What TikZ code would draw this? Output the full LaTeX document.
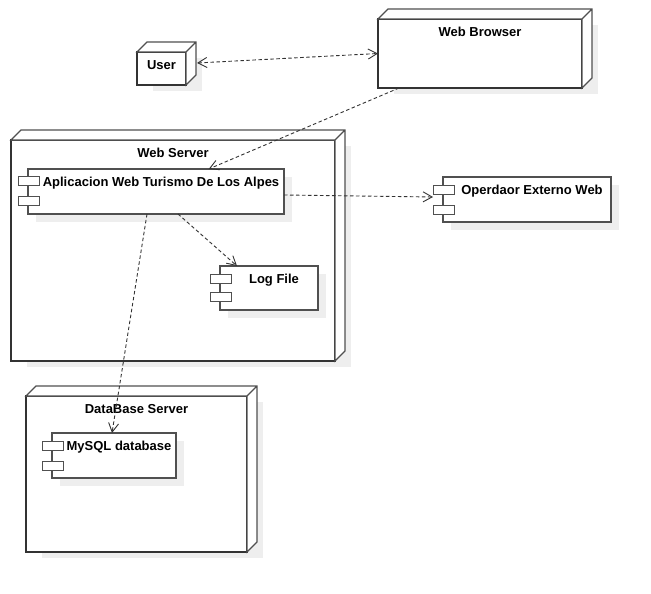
\documentclass[tikz,border=0pt]{standalone}
\usepackage{fontspec}
\setmainfont{Liberation Sans}
\usetikzlibrary{arrows.meta,shadows}
\definecolor{lshadow}{RGB}{238, 238, 238}
\definecolor{dline}{RGB}{51, 51, 51}
\definecolor{mline}{RGB}{80, 80, 80}

\begin{document}
\begin{tikzpicture}[x = 1pt, y = -1pt, font = \fontsize{13}{15}\selectfont\bfseries,
	>={Straight Barb[length=9pt,width=10pt]},
	device/.style = {draw = dline, line width = 2pt, fill = white, anchor = north west, inner sep = 0pt, outer sep = 0pt,
		drop shadow = {shadow xshift = 16pt, shadow yshift = -6pt, fill = lshadow, opacity = 1}},
	face/.style = {draw = mline, line width = 1.1pt, fill = white},
	comp/.style = {draw = mline, line width = 1.3pt, fill = white, anchor = north west, inner sep = 0pt, outer sep = 0pt, minimum height = 45pt,
		drop shadow = {shadow xshift = 8pt, shadow yshift = -8pt, fill = lshadow, opacity = 1}},
	icon/.style = {draw = mline, line width = 1.3pt, fill = white, anchor = north west, inner sep = 0pt, minimum width = 21pt, minimum height = 9pt},
	title/.style = {anchor = north, inner sep = 8pt},
	dep/.style = {draw = dline, line width = 0.9pt, dash pattern = on 3.5pt off 2.5pt}]
			\useasboundingbox (0,0) rectangle (651,594);
			\node (user) at (137,52) [device, minimum width = 49pt, minimum height = 33pt, label = {[title]north:User}] {};
			\node (browser) at (378,19) [device, minimum width = 204pt, minimum height = 69pt, label = {[title]north:Web Browser}] {};
			\node (webserver) at (11,140) [device, minimum width = 324pt, minimum height = 221pt, label = {[title]north:Web Server}] {};
			\node (dbserver) at (26,396) [device, minimum width = 221pt, minimum height = 156pt, label = {[title]north:DataBase Server}] {};
			\node (app) at (28,169) [comp, minimum width = 256pt, label = {[title, xshift = 5pt]north:Aplicacion Web Turismo De Los Alpes}] {};
			\node (op) at (443,177) [comp, minimum width = 168pt, label = {[title, xshift = 5pt]north:Operdaor Externo Web}] {};
			\node (logfile) at (220,266) [comp, minimum width = 98pt, minimum height = 44pt, label = {[title, xshift = 5pt]north:Log File}] {};
			\node (mysql) at (52,433) [comp, minimum width = 124pt, label = {[title, xshift = 5pt]north:MySQL database}] {};
			\node (app-a) at ([shift={(-10pt,-7pt)}]app.north west) [icon] {};
			\node (app-b) at ([shift={(-10pt,-27pt)}]app.north west) [icon] {};
			\node (op-a) at ([shift={(-10pt,-8pt)}]op.north west) [icon] {};
			\node (op-b) at ([shift={(-10pt,-28pt)}]op.north west) [icon] {};
			\node (logfile-a) at ([shift={(-10pt,-8pt)}]logfile.north west) [icon] {};
			\node (logfile-b) at ([shift={(-10pt,-26pt)}]logfile.north west) [icon] {};
			\node (mysql-a) at ([shift={(-10pt,-8pt)}]mysql.north west) [icon] {};
			\node (mysql-b) at ([shift={(-10pt,-28pt)}]mysql.north west) [icon] {};
			\draw [face] (user.north west) -- ++(10pt,10pt) -| ([shift={(10pt,10pt)}]user.south east) -- (user.south east) -- (user.north east) -- cycle (user.north east) -- ++(10pt,10pt);
			\draw [face] (browser.north west) -- ++(10pt,10pt) -| ([shift={(10pt,10pt)}]browser.south east) -- (browser.south east) -- (browser.north east) -- cycle (browser.north east) -- ++(10pt,10pt);
			\draw [face] (webserver.north west) -- ++(10pt,10pt) -| ([shift={(10pt,10pt)}]webserver.south east) -- (webserver.south east) -- (webserver.north east) -- cycle (webserver.north east) -- ++(10pt,10pt);
			\draw [face] (dbserver.north west) -- ++(10pt,10pt) -| ([shift={(10pt,10pt)}]dbserver.south east) -- (dbserver.south east) -- (dbserver.north east) -- cycle (dbserver.north east) -- ++(10pt,10pt);
			\draw [dep, <->] ([shift={(11pt,5.5pt)}]user.east) -- (browser.west);
			\draw [dep, ->] (browser) -- (app);
			\draw [dep, ->] ([yshift=-3.5pt]app.east) -- ([shift={(-10pt,2.5pt)}]op.west);
			\draw [dep, ->] ([xshift=22pt]app.south) -- ([xshift=-32pt]logfile.north);
			\draw [dep, ->] ([xshift=-9pt]app.south) -- ([xshift=-2pt]mysql.north);
\end{tikzpicture}
\end{document}
